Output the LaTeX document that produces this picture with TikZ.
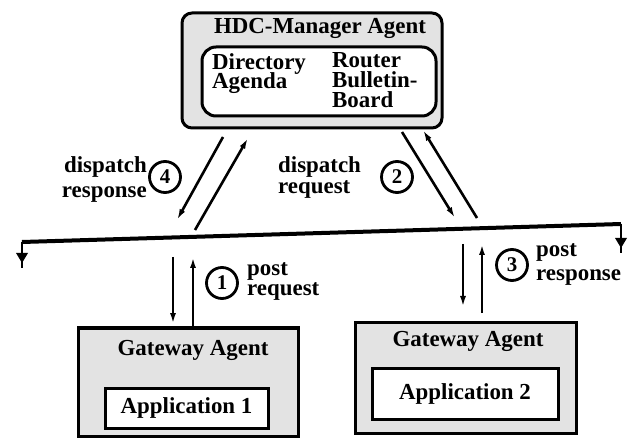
\documentclass[tikz,border=0pt]{standalone}
\usepackage{fontspec}
\setmainfont{Liberation Serif}
\usetikzlibrary{arrows.meta}
\newcommand\tightlines{\lineskiplimit=-30pt\relax\lineskip=0pt\relax}
\begin{document}
\begin{tikzpicture}[x=1bp,y=-1bp,
  shaded/.style={draw, line width=3bp, fill=black!11, inner sep=0pt},
  whitebox/.style={draw, line width=3bp, fill=white, inner sep=0pt},
  txt/.style={font=\fontsize{23}{20}\selectfont\bfseries, inner sep=0pt},
  stack/.style={inner sep=0pt, font=\fontsize{23}{#1}\selectfont\bfseries\tightlines},
  flow/.style={line width=2.6bp, -{Latex[length=11bp,width=6bp]}},
  num/.style={circle, draw, line width=2.8bp, minimum size=31bp, inner sep=0pt,
    font=\fontsize{21}{21}\selectfont\bfseries},
  bus/.style={line width=4bp},
  groundtip/.style={fill=black}]
\useasboundingbox (0,0) rectangle (629,443);

% manager agent
\node[shaded, rounded corners=10bp, minimum width=260bp, minimum height=115bp] (mgr) at (312,70.5) {};
\node[txt] (mgrtitle) at (320,28) {HDC-Manager Agent};
\node[whitebox, rounded corners=14bp, minimum width=234bp, minimum height=69bp] (mgrin) at (319,81.5) {};
\node[stack=19, align=left, anchor=north west] (dir) at (212,53.5) {Directory\\Agenda};
\node[stack=20, align=left, anchor=north west] (rtr) at (332,52.5) {Router\\Bulletin-\\Board};

% gateway agents
\node[shaded, minimum width=220bp, minimum height=108bp] (gw1) at (188,382) {};
\node[txt] (gw1title) at (193,350) {Gateway Agent};
\node[whitebox, txt, minimum width=163bp, minimum height=40bp] (app1) at (186.5,408) {Application 1};

\node[shaded, minimum width=221bp, minimum height=110bp] (gw2) at (465.5,378) {};
\node[txt] (gw2title) at (468,341) {Gateway Agent};
\node[whitebox, txt, minimum width=186bp, minimum height=51bp] (app2) at (465,393.5) {Application 2};

% bus with grounded ends
\coordinate (busL) at (22,242);
\coordinate (busR) at (621,224);
\draw[bus] (busL) -- (busR);
\draw[line width=2.5bp] (busL) -- ++(0,26);
\draw[line width=2.5bp] (busR) -- ++(0,29);
\fill[groundtip] (16,253) -- (28,253) -- (22,263) -- cycle;
\fill[groundtip] (615,238) -- (627,238) -- (621,248) -- cycle;

% message arrows
\coordinate (p4a) at (223,137); \coordinate (q4a) at (177,220);
\coordinate (p4b) at (195,230); \coordinate (q4b) at (248,138);
\coordinate (p2a) at (402,132); \coordinate (q2a) at (455,218);
\coordinate (p2b) at (477,218); \coordinate (q2b) at (423,130);
\coordinate (p1a) at (173,257); \coordinate (q1a) at (173,324);
\coordinate (p1b) at (193,326); \coordinate (q1b) at (193,257);
\coordinate (p3a) at (463,244); \coordinate (q3a) at (463,307);
\coordinate (p3b) at (482,313); \coordinate (q3b) at (482,244);
\draw[flow] (p4a) -- (q4a);
\draw[flow] (p4b) -- (q4b);
\draw[flow] (p2a) -- (q2a);
\draw[flow] (p2b) -- (q2b);
\draw[flow] (p1a) -- (q1a);
\draw[flow] (p1b) -- (q1b);
\draw[flow] (p3a) -- (q3a);
\draw[flow] (p3b) -- (q3b);

% step numbers
\node[num] (c4) at (165,177) {4};
\node[num] (c2) at (397,177) {2};
\node[num] (c1) at (222,283) {1};
\node[num] (c3) at (512,265) {3};

% step labels
\node[stack=25, align=right, anchor=north east] (l4) at (147,156) {dispatch\\response};
\node[stack=21, align=left, anchor=north west] (l2) at (278,156) {dispatch\\request};
\node[stack=20, align=left, anchor=north west] (l1) at (247,262.5) {post\\request};
\node[stack=24, align=left, anchor=north west] (l3) at (536,243.5) {post\\response};
\end{tikzpicture}
\end{document}
